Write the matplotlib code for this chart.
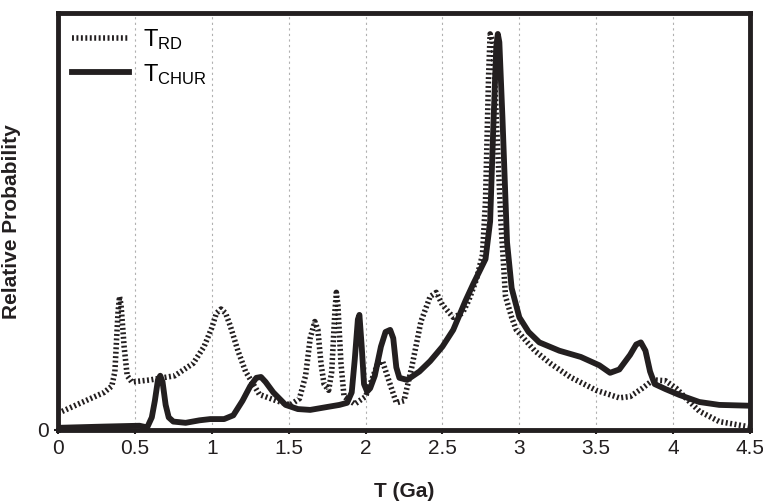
import numpy as np
import matplotlib
matplotlib.use("Agg")
import matplotlib.pyplot as plt

plt.rcParams['font.family'] = ['Liberation Sans', 'DejaVu Sans']
plt.rcParams['mathtext.default'] = 'regular'

# T_RD curve (dotted)
t_rd = [0.0, 0.15, 0.30, 0.35, 0.37, 0.39, 0.40, 0.41, 0.43, 0.45, 0.48, 0.6, 0.76,
        0.88, 0.95, 1.0, 1.03, 1.06, 1.09, 1.12, 1.17, 1.22, 1.31, 1.42, 1.51, 1.57,
        1.61, 1.64, 1.67, 1.69, 1.71, 1.73, 1.76, 1.78, 1.80, 1.81, 1.82, 1.84, 1.86,
        1.93, 2.0, 2.04, 2.08, 2.11, 2.15, 2.20, 2.25, 2.30, 2.36, 2.42, 2.46, 2.50,
        2.57, 2.63, 2.67, 2.72, 2.76, 2.78, 2.80, 2.81, 2.83, 2.85, 2.88, 2.91, 2.95,
        2.98, 3.1, 3.2, 3.33, 3.5, 3.65, 3.72, 3.80, 3.87, 3.95, 4.02, 4.1, 4.17,
        4.3, 4.5]
p_rd = [0.04, 0.065, 0.09, 0.105, 0.14, 0.28, 0.32, 0.3, 0.2, 0.13, 0.115, 0.12,
        0.13, 0.16, 0.2, 0.245, 0.28, 0.29, 0.28, 0.25, 0.19, 0.14, 0.085, 0.07,
        0.06, 0.075, 0.13, 0.22, 0.26, 0.24, 0.16, 0.11, 0.095, 0.14, 0.28, 0.33,
        0.3, 0.16, 0.08, 0.062, 0.08, 0.12, 0.16, 0.165, 0.12, 0.065, 0.07, 0.15,
        0.26, 0.32, 0.33, 0.3, 0.27, 0.28, 0.31, 0.36, 0.42, 0.55, 0.85, 0.95,
        0.93, 0.75, 0.5, 0.32, 0.27, 0.24, 0.19, 0.16, 0.127, 0.095, 0.077, 0.08,
        0.1, 0.12, 0.118, 0.1, 0.07, 0.045, 0.02, 0.007]

# T_CHUR curve (solid)
t_chur = [0.0, 0.3, 0.53, 0.58, 0.61, 0.63, 0.65, 0.665, 0.68, 0.70, 0.72, 0.75,
          0.83, 0.92, 0.99, 1.08, 1.14, 1.2, 1.25, 1.29, 1.32, 1.35, 1.40, 1.48,
          1.56, 1.64, 1.75, 1.83, 1.88, 1.91, 1.93, 1.95, 1.96, 1.975, 1.99, 2.01,
          2.03, 2.06, 2.10, 2.13, 2.16, 2.18, 2.20, 2.22, 2.27, 2.35, 2.42, 2.5,
          2.57, 2.65, 2.70, 2.74, 2.78, 2.81, 2.83, 2.85, 2.86, 2.87, 2.89, 2.92,
          2.95, 3.0, 3.06, 3.13, 3.26, 3.40, 3.52, 3.59, 3.65, 3.72, 3.76, 3.79,
          3.82, 3.85, 3.88, 3.95, 4.04, 4.17, 4.3, 4.5]
p_chur = [0.005, 0.008, 0.01, 0.006, 0.03, 0.07, 0.12, 0.13, 0.115, 0.06, 0.03,
          0.02, 0.017, 0.023, 0.026, 0.026, 0.035, 0.07, 0.105, 0.125, 0.127, 0.115,
          0.09, 0.06, 0.05, 0.048, 0.055, 0.06, 0.065, 0.09, 0.17, 0.265, 0.276,
          0.2, 0.11, 0.092, 0.1, 0.13, 0.2, 0.235, 0.24, 0.22, 0.15, 0.125, 0.12,
          0.14, 0.165, 0.2, 0.24, 0.31, 0.35, 0.38, 0.41, 0.5, 0.72, 0.92, 0.95,
          0.93, 0.75, 0.45, 0.34, 0.27, 0.235, 0.21, 0.19, 0.175, 0.155, 0.137,
          0.145, 0.18, 0.205, 0.21, 0.19, 0.14, 0.11, 0.098, 0.084, 0.067, 0.06,
          0.058]

xticks = [0, 0.5, 1, 1.5, 2, 2.5, 3, 3.5, 4, 4.5]
xticklabels = ['0', '0.5', '1', '1.5', '2', '2.5', '3', '3.5', '4', '4.5']

fig = plt.figure(figsize=(7.63, 5.04), dpi=100)
ax = fig.add_axes([0.076, 0.147, 0.907, 0.827])

for x in xticks[1:-1]:
    ax.axvline(x, color='#b0b0b0', lw=0.8, ls=(0, (2, 3)), zorder=0)

ax.plot(t_rd, p_rd, color='#231f20', lw=4, ls=(0, (0.35, 0.45)),
        dash_capstyle='butt', solid_joinstyle='round', label='T$_{RD}$')
ax.plot(t_chur, p_chur, color='#231f20', lw=4.2, solid_joinstyle='round',
        label='T$_{CHUR}$')

ax.set_xlim(0, 4.5)
ax.set_ylim(0, 1.0)
ax.set_xticks(xticks)
ax.set_xticklabels(xticklabels)
ax.set_yticks([0])
ax.tick_params(axis='both', labelsize=15, length=3, width=1.5, colors='#231f20',
               direction='out')
for s in ax.spines.values():
    s.set_linewidth(3.5)
    s.set_color('#231f20')

ax.set_xlabel('T (Ga)', fontsize=15, fontweight='bold', labelpad=17, color='#231f20')
ax.set_ylabel('Relative Probability', fontsize=15, fontweight='bold', labelpad=12,
              color='#231f20')

leg = ax.legend(loc='upper left', frameon=False, fontsize=17, handlelength=2.4,
                borderaxespad=0.2, labelspacing=0.4, handletextpad=0.6)

fig.savefig('out.png', dpi=100)
